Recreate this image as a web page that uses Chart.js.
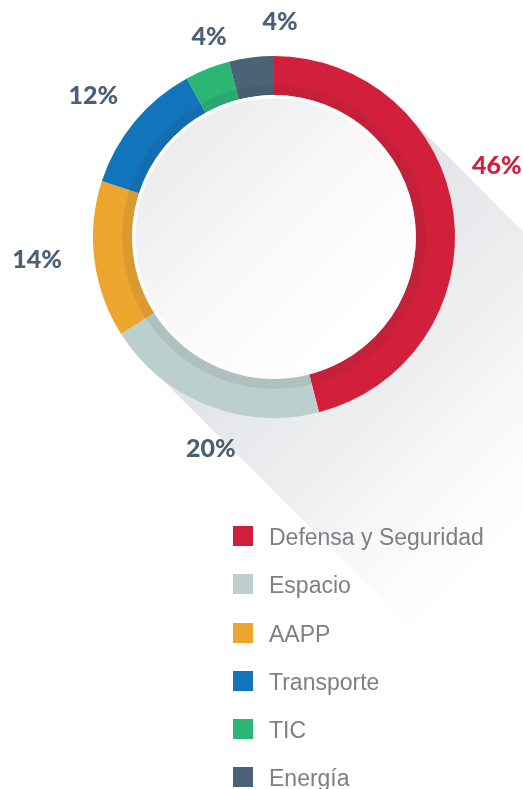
<!DOCTYPE html>
<html>
<head>
<meta charset="utf-8">
<script src="https://cdn.jsdelivr.net/npm/chart.js@4.4.1/dist/chart.umd.min.js"></script>
<style>
  html, body { margin: 0; padding: 0; background: #fff; }
  #wrap { position: relative; width: 523px; height: 789px; overflow: hidden; }
  #chart { position: absolute; left: 0; top: 0; }
  #legend { position: absolute; left: 233px; top: 526px; margin: 0; padding: 0; list-style: none; }
  #legend li { height: 48.3px; display: flex; align-items: flex-start; }
  #legend span.box { width: 20px; height: 20px; margin-right: 16px; flex: none; }
  #legend span.txt { font-family: "Liberation Sans", Arial, sans-serif; font-size: 23px; color: #7e7f84; line-height: 20px; margin-top: 1px; }
</style>
</head>
<body>
<div id="wrap">
  <canvas id="chart" width="523" height="789"></canvas>
  <ul id="legend"></ul>
</div>
<script>
// data
const sectors = ['Defensa y Seguridad', 'Espacio', 'AAPP', 'Transporte', 'TIC', 'Energía'];
const shares = [46, 20, 14, 12, 4, 4];
const pctLabels = ['46%', '20%', '14%', '12%', '4%', '4%'];

// colours
const mainColors = ['#d21f3b', '#bbd0cc', '#eca52d', '#1274bb', '#2bb673', '#4a6376'];
const labelColors = ['#d21f3b', '#4a6075', '#4a6075', '#4a6075', '#4a6075', '#4a6075'];
// small hand tweaks for where the % labels sit: [angle shift in deg, distance past the ring]
const labelNudge = [[-10.5, 53], [-5, 40], [1.7, 57], [-1.7, 48], [3.6, 29], [8.8, 34]];

// long diagonal shadow behind the ring, darker inner band, white inner disc
const decor = {
  id: 'decor',
  beforeDatasetsDraw(chart) {
    const arc = chart.getDatasetMeta(0).data[0];
    if (!arc) return;
    const ctx = chart.ctx;
    const cx = arc.x, cy = arc.y, r = arc.outerRadius - 1;
    const k = r / Math.SQRT2, L = 700;
    ctx.save();
    const g = ctx.createLinearGradient(cx, cy, cx + 300, cy + 300);
    g.addColorStop(0, 'rgba(222,223,227,1)');
    g.addColorStop(0.45, 'rgba(230,231,234,0.7)');
    g.addColorStop(0.75, 'rgba(242,242,244,0.35)');
    g.addColorStop(0.95, 'rgba(255,255,255,0)');
    ctx.fillStyle = g;
    ctx.beginPath();
    ctx.moveTo(cx + k, cy - k);
    ctx.lineTo(cx + k + L, cy - k + L);
    ctx.lineTo(cx - k + L, cy + k + L);
    ctx.lineTo(cx - k, cy + k);
    ctx.closePath();
    ctx.fill();
    ctx.restore();
  },
  afterDatasetsDraw(chart) {
    const arc = chart.getDatasetMeta(0).data[0];
    if (!arc) return;
    const ctx = chart.ctx;
    const cx = arc.x, cy = arc.y, r = arc.innerRadius;
    ctx.save();
    // darker band on the inner edge of the ring
    ctx.beginPath();
    ctx.arc(cx, cy, r + 10, 0, Math.PI * 2);
    ctx.arc(cx, cy, r - 0.5, 0, Math.PI * 2, true);
    ctx.fillStyle = 'rgba(40,40,50,0.09)';
    ctx.fill();
    // inner disc
    ctx.beginPath();
    ctx.arc(cx, cy, r, 0, Math.PI * 2);
    ctx.fillStyle = '#fdfdfd';
    ctx.fill();
    const g = ctx.createLinearGradient(cx - r, cy - r, cx + r * 0.6, cy + r * 0.6);
    g.addColorStop(0, '#e6e7ea');
    g.addColorStop(0.6, '#f8f8f9');
    g.addColorStop(1, '#ffffff');
    ctx.beginPath();
    ctx.arc(cx, cy, r - 3.5, 0, Math.PI * 2);
    ctx.fillStyle = g;
    ctx.fill();

    // percentage labels
    const meta = chart.getDatasetMeta(0);
    ctx.font = '900 25px Lato, "Open Sans", sans-serif';
    ctx.textAlign = 'center';
    ctx.textBaseline = 'middle';
    meta.data.forEach((el, i) => {
      const mid = (el.startAngle + el.endAngle) / 2 + labelNudge[i][0] * Math.PI / 180;
      const d = el.outerRadius + labelNudge[i][1];
      ctx.fillStyle = labelColors[i];
      ctx.fillText(pctLabels[i], el.x + Math.cos(mid) * d, el.y + Math.sin(mid) * d);
    });
    ctx.restore();
  }
};

const ctx = document.getElementById('chart').getContext('2d');
new Chart(ctx, {
  type: 'doughnut',
  data: {
    labels: sectors,
    datasets: [
      { data: shares, backgroundColor: mainColors, borderWidth: 0 }
    ]
  },
  options: {
    responsive: false,
    animation: false,
    cutout: '78.4%',
    hoverOffset: 0,
    offset: 0,
    layout: { padding: { left: 93, top: 56, right: 68, bottom: 371 } },
    plugins: {
      legend: { display: false },
      tooltip: { enabled: false }
    },
    events: []
  },
  plugins: [decor]
});

// legend
const ul = document.getElementById('legend');
sectors.forEach((name, i) => {
  const li = document.createElement('li');
  li.innerHTML = '<span class="box" style="background:' + mainColors[i] + '"></span><span class="txt">' + name + '</span>';
  ul.appendChild(li);
});
</script>
</body>
</html>
